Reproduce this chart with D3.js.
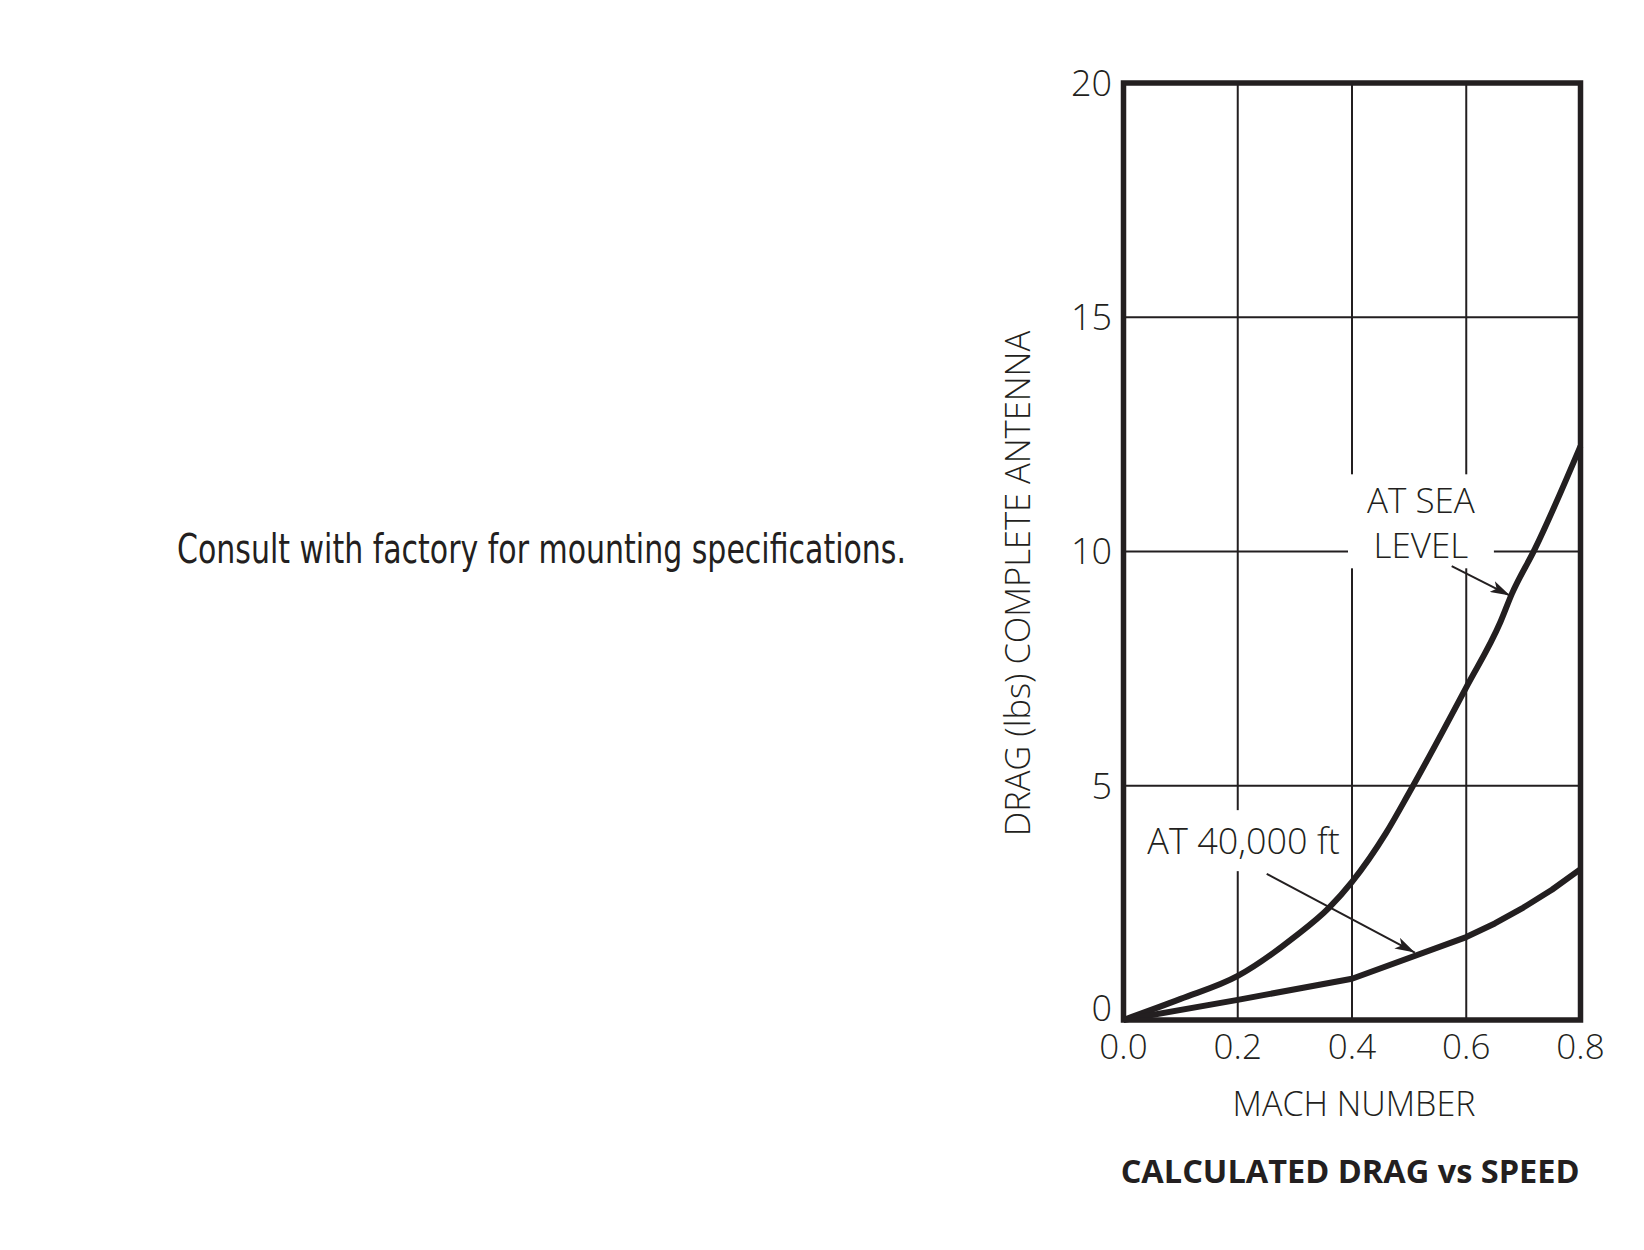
<!DOCTYPE html>
<html>
<head>
<meta charset="utf-8">
<script src="https://cdn.jsdelivr.net/npm/d3@7"></script>
<style>
  body { margin: 0; background: #fff; }
  svg { display: block; }
</style>
</head>
<body>
<div id="chart"></div>
<script>
// valeurs (Mach, lbs)
const machTicks = [0.0, 0.2, 0.4, 0.6, 0.8];
const dragTicks = [0, 5, 10, 15, 20];

const seaLevel = [
  [0, 0], [0.1, 0.45], [0.2, 0.94], [0.3, 1.78], [0.36, 2.4], [0.4, 2.95],
  [0.46, 4.0], [0.5, 4.85], [0.6, 7.1], [0.66, 8.5], [0.68, 9.1],
  [0.72, 10.05], [0.8, 12.25]
];
const alt40k = [
  [0, 0], [0.2, 0.43], [0.4, 0.88], [0.6, 1.77], [0.65, 2.06],
  [0.7, 2.4], [0.75, 2.78], [0.8, 3.22]
];

const seaLabel = ["AT SEA", "LEVEL"];
const altLabel = "AT 40,000 ft";

const W = 1644, H = 1250;
const ink = "#231f20";

const svg = d3.select("#chart").append("svg")
  .attr("width", W)
  .attr("height", H);

// échelles
const x = d3.scaleLinear().domain([0, 0.8]).range([1123.5, 1580.5]);
const y = d3.scaleLinear().domain([0, 20]).range([1020, 83]);

// texte à gauche
svg.append("text")
  .attr("x", 177)
  .attr("y", 563)
  .attr("textLength", 729)
  .attr("lengthAdjust", "spacingAndGlyphs")
  .style("font-family", "'Liberation Sans Narrow', 'DejaVu Sans Condensed', sans-serif")
  .style("font-size", "40px")
  .attr("fill", ink)
  .text("Consult with factory for mounting specifications.");

// --- grille ---
const grid = svg.append("g").attr("stroke", ink).attr("stroke-width", 2);
grid.selectAll(".vg")
  .data(machTicks.slice(1, -1))
  .enter().append("line")
  .attr("x1", d => x(d)).attr("x2", d => x(d))
  .attr("y1", y(0)).attr("y2", y(20));
grid.selectAll(".hg")
  .data(dragTicks.slice(1, -1))
  .enter().append("line")
  .attr("x1", x(0)).attr("x2", x(0.8))
  .attr("y1", d => y(d)).attr("y2", d => y(d));

// --- étiquettes des courbes (fond blanc qui coupe la grille) ---
const labelFont = "'Open Sans', 'DejaVu Sans', sans-serif";
const annot = svg.append("g");

const seaBox = annot.append("rect").attr("fill", "#fff");
const seaText = annot.append("text")
  .attr("text-anchor", "middle")
  .style("font-family", labelFont)
  .style("font-weight", 300)
  .style("font-size", "35px")
  .attr("fill", ink);
seaText.selectAll("tspan")
  .data(seaLabel)
  .enter().append("tspan")
  .attr("x", x(0.5207))
  .attr("y", (d, i) => y(10.815) + i * 45)
  .text(d => d);

const altBox = annot.append("rect").attr("fill", "#fff");
const altText = annot.append("text")
  .attr("x", x(0.0417))
  .attr("y", y(3.54))
  .style("font-family", labelFont)
  .style("font-weight", 300)
  .style("font-size", "36px")
  .attr("fill", ink)
  .text(altLabel);

function fitBox(rect, txt, px, pyTop, pyBot) {
  const b = txt.node().getBBox();
  rect.attr("x", b.x - px).attr("y", b.y - pyTop)
    .attr("width", b.width + 2 * px).attr("height", b.height + pyTop + pyBot);
}
fitBox(seaBox, seaText, 19, 2, 0);
fitBox(altBox, altText, 4, 6, 6);

// --- courbes ---
const seaLine = d3.line()
  .x(d => x(d[0]))
  .y(d => y(d[1]))
  .curve(d3.curveMonotoneX);
const altLine = d3.line()
  .x(d => x(d[0]))
  .y(d => y(d[1]));

svg.selectAll(".curve")
  .data([seaLine(seaLevel), altLine(alt40k)])
  .enter().append("path")
  .attr("d", d => d)
  .attr("fill", "none")
  .attr("stroke", ink)
  .attr("stroke-width", 6)
  .attr("stroke-linejoin", "round");

// --- flèches ---
svg.append("defs").append("marker")
  .attr("id", "arrow")
  .attr("viewBox", "0 0 10 6")
  .attr("refX", 10).attr("refY", 3)
  .attr("markerWidth", 10).attr("markerHeight", 6)
  .attr("markerUnits", "strokeWidth")
  .attr("orient", "auto")
  .append("path")
  .attr("d", "M0,0 L10,3 L0,6 L2.5,3 Z")
  .attr("fill", ink);

const arrows = [
  { from: [0.2507, 3.12], to: [0.510, 1.44] },
  { from: [0.5745, 9.69], to: [0.6766, 9.06] }
];
svg.selectAll(".arrow")
  .data(arrows)
  .enter().append("line")
  .attr("x1", d => x(d.from[0])).attr("y1", d => y(d.from[1]))
  .attr("x2", d => x(d.to[0])).attr("y2", d => y(d.to[1]))
  .attr("stroke", ink)
  .attr("stroke-width", 2)
  .attr("marker-end", "url(#arrow)");

// --- cadre ---
svg.append("rect")
  .attr("x", x(0)).attr("y", y(20))
  .attr("width", x(0.8) - x(0))
  .attr("height", y(0) - y(20))
  .attr("fill", "none")
  .attr("stroke", ink)
  .attr("stroke-width", 5.5);

// --- axes ---
const tickFont = "'Open Sans', 'DejaVu Sans', sans-serif";
svg.selectAll(".ytick")
  .data(dragTicks)
  .enter().append("text")
  .attr("x", 1112)
  .attr("y", d => y(d) + (d === 0 ? -12 : 0))
  .attr("dy", "0.36em")
  .attr("text-anchor", "end")
  .style("font-family", tickFont)
  .style("font-weight", 300)
  .style("font-size", "36px")
  .attr("fill", ink)
  .text(d => d);

svg.selectAll(".xtick")
  .data(machTicks)
  .enter().append("text")
  .attr("x", d => x(d))
  .attr("y", 1059)
  .attr("text-anchor", "middle")
  .style("font-family", tickFont)
  .style("font-weight", 300)
  .style("font-size", "35px")
  .attr("fill", ink)
  .text(d => d3.format(".1f")(d));

svg.append("text")
  .attr("transform", `translate(1030, ${(y(0) + y(20)) / 2 + 32}) rotate(-90)`)
  .attr("text-anchor", "middle")
  .style("font-family", tickFont)
  .style("font-weight", 300)
  .style("font-size", "34.5px")
  .attr("fill", ink)
  .text("DRAG (lbs) COMPLETE ANTENNA");

svg.append("text")
  .attr("x", 1354)
  .attr("y", 1116)
  .attr("text-anchor", "middle")
  .style("font-family", tickFont)
  .style("font-weight", 300)
  .style("font-size", "34px")
  .attr("fill", ink)
  .text("MACH NUMBER");

svg.append("text")
  .attr("x", x(0.8) - 1)
  .attr("y", 1183)
  .attr("text-anchor", "end")
  .style("font-family", tickFont)
  .style("font-weight", 700)
  .style("font-size", "32.5px")
  .attr("fill", ink)
  .text("CALCULATED DRAG vs SPEED");
</script>
</body>
</html>
